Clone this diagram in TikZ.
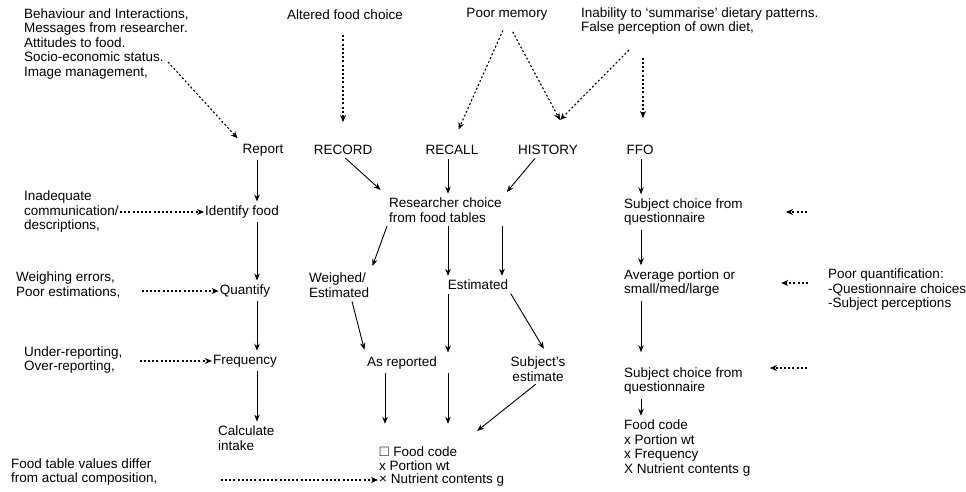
\documentclass[tikz,border=0pt]{standalone}
\usepackage{amssymb}
\usepackage{fontspec}
\setmainfont{Liberation Sans}
\usetikzlibrary{arrows.meta,calc}
\tikzstyle{lbl}=[inner sep=1pt, align=left]
\tikzstyle{arr}=[-{Stealth[length=7pt,width=5.5pt]}, line width=0.9pt, shorten <=3pt, shorten >=3pt]
\tikzstyle{thinarr}=[arr, line width=0.6pt]
\tikzstyle{dotarr}=[-{Stealth[length=7pt,width=6pt]}, line width=1.1pt, dash pattern=on 2pt off 2.2pt]

\begin{document}
\begin{tikzpicture}[x=1pt, y=-1pt, font=\fontsize{13.5}{14.5}\selectfont]
	\useasboundingbox (0,0) rectangle (966,492);
%
	\node[lbl, anchor=west] (behav) at (23,44) {Behaviour and Interactions,\\Messages from researcher.\\Attitudes to food.\\Socio-economic status.\\Image management,};
	\node[lbl] (altered) at (345,15) {Altered food choice};
	\node[lbl] (poormem) at (507,14) {Poor memory};
	\node[lbl, anchor=west] (inab) at (580,21) {Inability to `summarise' dietary patterns.\\False perception of own diet,};
%
	\node[lbl] (report) at (263,150) {Report};
	\node[lbl] (record) at (343,150) {RECORD};
	\node[lbl] (recall) at (452,150) {RECALL};
	\node[lbl] (history) at (548,150) {HISTORY};
	\node[lbl] (ffo) at (640,150) {FFO};
%
	\node[lbl, anchor=west] (inadeq) at (23,212) {Inadequate\\communication/\\descriptions,};
	\node[lbl, anchor=west] (weigherr) at (15,285) {Weighing errors,\\Poor estimations,};
	\node[lbl, anchor=west] (underrep) at (23,360) {Under-reporting,\\Over-reporting,};
	\node[lbl, anchor=west] (foodtab) at (10,472) {Food table values differ\\from actual composition,};
%
	\node[lbl] (identify) at (242,212) {Identify food};
	\node[lbl] (quantify) at (245,291) {Quantify};
	\node[lbl] (freq) at (245,361) {Frequency};
	\node[lbl, anchor=west] (calc) at (217,438) {Calculate\\intake};
%
	\node[lbl, anchor=west] (research) at (388,210) {Researcher choice\\from food tables};
	\node[lbl, anchor=west] (weighed) at (308,285) {Weighed/\\Estimated};
	\node[lbl] (estim) at (478,285) {Estimated};
	\node[lbl] (asrep) at (402,363) {As reported};
	\node[lbl, align=center] (subjest) at (538,369) {Subject's\\estimate};
	\node[lbl, anchor=west] (fcode) at (378,452) {$\square$ Food code};
	\node[lbl, anchor=west] (fport) at (378,466) {x Portion wt};
	\node[lbl, anchor=west] (fnutr) at (378,480) {× Nutrient contents g};
%
	\node[lbl, anchor=west] (subj1) at (623,212) {Subject choice from\\questionnaire};
	\node[lbl, anchor=west] (avgport) at (623,283) {Average portion or\\small/med/large};
	\node[lbl, anchor=west] (subj2) at (623,381) {Subject choice from\\questionnaire};
	\node[lbl, anchor=west] (ffolist) at (623,448) {Food code\\x Portion wt\\x Frequency\\X Nutrient contents g};
	\node[lbl, anchor=west] (poorq) at (827,290) {Poor quantification:\\-Questionnaire choices\\-Subject perceptions};
%
	\coordinate (colB) at (257,0);
	\coordinate (colC) at (385,0);
	\coordinate (colD) at (448,0);
	\coordinate (colE) at (502,0);
	\coordinate (colF) at (641,0);
	\coordinate (inabx) at (643,0);
	\coordinate (socioend) at (168,62);
	\coordinate (histtip) at ($(history.north)+(12,-24)$);
	\coordinate (rin1) at (807,212);
	\coordinate (rin3) at (807,368);
%
	\draw[dotarr, shorten >=6pt] (socioend) -- (report.north west);
	\draw[dotarr, shorten <=14pt, shorten >=22pt] (altered.south -| record) -- (record.north);
	\draw[dotarr, shorten <=10pt, shorten >=16pt] (poormem.south) -- (recall.north);
	\draw[dotarr, shorten <=12pt] (poormem.south) -- (histtip);
	\draw[dotarr, shorten <=20pt] (inab.south -| inabx) -- (histtip);
	\draw[dotarr, shorten <=22pt, shorten >=26pt] (inab.south -| inabx) -- (ffo.north -| inabx);
%
	\draw[arr] (report.south -| colB) -- (identify.north -| colB);
	\draw[arr] (identify.south -| colB) -- (quantify.north -| colB);
	\draw[arr] (quantify.south -| colB) -- (freq.north -| colB);
	\draw[arr] (freq.south -| colB) -- (calc.north -| colB);
	\draw[dotarr] (inadeq.east |- identify) -- (identify.west);
	\draw[dotarr, shorten <=20pt] (weigherr.east |- quantify) -- (quantify.west);
	\draw[dotarr, shorten <=16pt] (underrep.east |- freq) -- (freq.west);
	\draw[dotarr, shorten <=62pt] (foodtab.east |- fnutr) -- (fnutr.west);
%
	\draw[arr, shorten >=10pt] (record.south) -- (research.north west);
	\draw[thinarr] (recall.south -| colD) -- (research.north -| colD);
	\draw[arr, shorten >=6pt] ([xshift=-11pt]history.south) -- (research.north east);
	\draw[arr, shorten >=6pt] (research.south west) -- (weighed.north east);
	\draw[thinarr] (research.south -| colD) -- (estim.north -| colD);
	\draw[arr] (research.south -| colE) -- (estim.north -| colE);
	\draw[thinarr] (estim.south -| colD) -- (asrep.north -| colD);
	\draw[arr, shorten >=6pt] ([xshift=12pt]weighed.south) -- (asrep.north west);
	\draw[arr, shorten >=8pt] (estim.south east) -- ([xshift=10pt]subjest.north);
	\draw[arr, shorten >=22pt] (asrep.south -| colC) -- (fcode.north -| colC);
	\draw[thinarr, shorten >=22pt] (asrep.south -| colD) -- (fcode.north -| colD);
	\draw[arr, shorten >=24pt] (subjest.south) -- (fcode.north east);
%
	\draw[arr] (ffo.south -| colF) -- (subj1.north -| colF);
	\draw[arr] (subj1.south -| colF) -- (avgport.north -| colF);
	\draw[arr, shorten >=14pt] (avgport.south -| colF) -- (subj2.north -| colF);
	\draw[arr] (subj2.south -| colF) -- (ffolist.north -| colF);
	\draw[dotarr, shorten >=42pt] (rin1) -- (subj1.east |- rin1);
	\draw[dotarr, shorten <=19pt, shorten >=45pt] (poorq.west |- avgport) -- (avgport.east);
	\draw[dotarr, shorten >=26pt] (rin3) -- (subj2.east |- rin3);
\end{tikzpicture}
\end{document}
